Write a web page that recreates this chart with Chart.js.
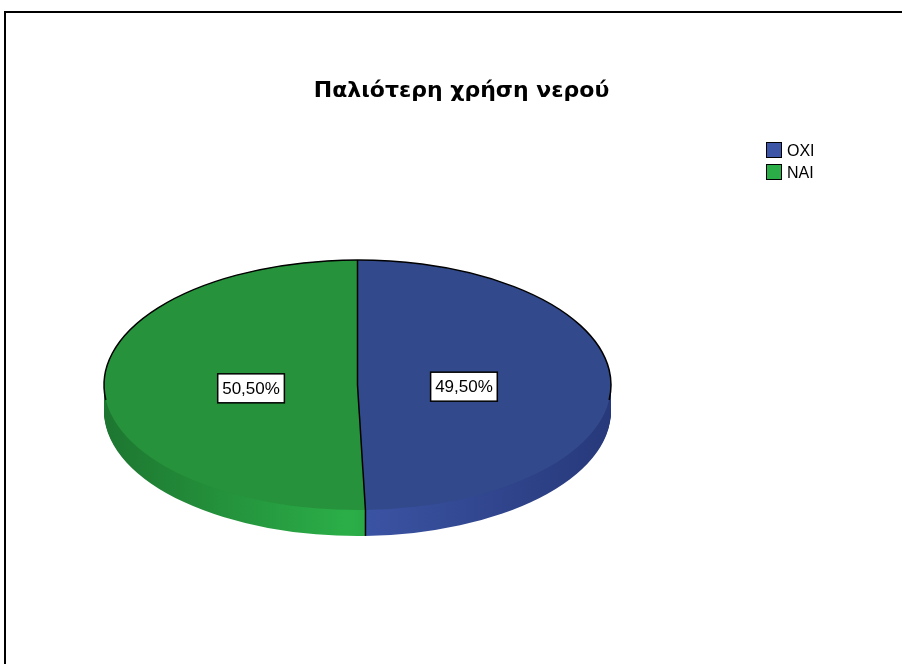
<!DOCTYPE html>
<html>
<head>
<meta charset="utf-8">
<script src="https://cdn.jsdelivr.net/npm/chart.js@4/dist/chart.umd.min.js"></script>
<style>
    body { margin: 0; background: #fff; font-family: Arial, "Liberation Sans", sans-serif; }
    #wrap { position: relative; width: 902px; height: 664px; overflow: hidden; }
    #frame { position: absolute; left: 4px; top: 11px; width: 1000px; height: 1000px;
             border-left: 2px solid #000; border-top: 2px solid #000; }
    #chart { position: absolute; left: 0; top: 0; }
    #title { position: absolute; left: 0; top: 77px; width: 923px; text-align: center;
             font-family: "DejaVu Sans", sans-serif; font-weight: bold; font-size: 22px;
             line-height: 26px; color: #000; }
    .leg { position: absolute; left: 766px; height: 16px; font-size: 16px; line-height: 16px; }
    .leg span.box { position: absolute; left: 0; top: 0; width: 16px; height: 16px;
                    box-sizing: border-box; border: 1.5px solid #000; }
    .leg span.txt { position: absolute; left: 21px; top: 1px; white-space: nowrap; }
</style>
</head>
<body>
<div id="wrap">
    <div id="frame"></div>
    <canvas id="chart" width="902" height="664"></canvas>
    <div id="title">Παλιότερη χρήση νερού</div>
    <div id="legend"></div>
</div>
<script>
// data
var labels = ['ΟΧΙ', 'ΝΑΙ'];
var percents = [49.5, 50.5];
var topColors = ['#324a8b', '#26923b'];
var sideLight = ['#3c55a6', '#2bae48'];
var sideDark = ['#27397a', '#1d7630'];

var squash = 125 / 253.5;   // vertical flattening of the pie
var depth = 26;             // thickness of the pie side in px

// legend boxes
var legend = document.getElementById('legend');
labels.forEach(function(l, i) {
    var d = document.createElement('div');
    d.className = 'leg';
    d.style.top = (142 + i * 22) + 'px';
    d.innerHTML = '<span class="box" style="background:' + sideLight[i] + '"></span><span class="txt">' + l + '</span>';
    legend.appendChild(d);
});

function pt(cx, cy, r, a) {
    return [cx + r * Math.cos(a), cy + r * squash * Math.sin(a)];
}

var pie3d = {
    id: 'pie3d',
    beforeDatasetsDraw: function(chart) {
        var ctx = chart.ctx;
        var arcs = chart.getDatasetMeta(0).data;
        var cx = arcs[0].x, cy = arcs[0].y, r = arcs[0].outerRadius;

        // side of the pie, stacked layers with a horizontal shading
        for (var d = depth; d > 0; d--) {
            arcs.forEach(function(arc, i) {
                var g = ctx.createLinearGradient(cx - r, 0, cx + r, 0);
                g.addColorStop(0, sideDark[i]);
                g.addColorStop(0.48, sideLight[i]);
                g.addColorStop(1, sideDark[i]);
                ctx.save();
                ctx.translate(0, d + cy);
                ctx.scale(1, squash);
                ctx.translate(0, -cy);
                ctx.beginPath();
                ctx.moveTo(cx, cy);
                ctx.arc(cx, cy, r, arc.startAngle, arc.endAngle);
                ctx.closePath();
                ctx.fillStyle = g;
                ctx.fill();
                ctx.restore();
            });
        }

        // flatten the top face drawn by the library
        ctx.save();
        ctx.translate(0, cy);
        ctx.scale(1, squash);
        ctx.translate(0, -cy);
    },
    afterDatasetsDraw: function(chart) {
        var ctx = chart.ctx;
        ctx.restore();
        var arcs = chart.getDatasetMeta(0).data;
        var cx = arcs[0].x, cy = arcs[0].y, r = arcs[0].outerRadius;

        ctx.save();
        ctx.strokeStyle = '#000';
        ctx.lineWidth = 1.5;

        // back rim outline
        ctx.beginPath();
        ctx.ellipse(cx, cy, r, r * squash, 0, Math.PI - 0.12, 2 * Math.PI + 0.12);
        ctx.stroke();

        // slice edges on top and on the front side
        arcs.forEach(function(arc) {
            var p = pt(cx, cy, r, arc.startAngle);
            ctx.beginPath();
            ctx.moveTo(cx, cy);
            ctx.lineTo(p[0], p[1]);
            ctx.stroke();
            var s = Math.sin(arc.startAngle);
            if (s > 0) {
                ctx.beginPath();
                ctx.moveTo(p[0], p[1]);
                ctx.lineTo(p[0], p[1] + depth);
                ctx.stroke();
            }
        });

        // value boxes
        ctx.font = '17px Arial, "Liberation Sans", sans-serif';
        ctx.textAlign = 'center';
        ctx.textBaseline = 'middle';
        arcs.forEach(function(arc, i) {
            var mid = (arc.startAngle + arc.endAngle) / 2;
            var p = pt(cx, cy, r * 0.42, mid);
            var txt = percents[i].toFixed(2).replace('.', ',') + '%';
            var w = ctx.measureText(txt).width + 9;
            var h = 29;
            var x = p[0], y = p[1] + 2.5;
            ctx.fillStyle = '#fff';
            ctx.fillRect(x - w / 2, y - h / 2, w, h);
            ctx.strokeRect(x - w / 2, y - h / 2, w, h);
            ctx.fillStyle = '#000';
            ctx.fillText(txt, x, y + 1);
        });
        ctx.restore();
    }
};

new Chart(document.getElementById('chart'), {
    type: 'pie',
    data: {
        labels: labels,
        datasets: [{
            data: percents,
            backgroundColor: topColors,
            borderWidth: 0,
            clip: false
        }]
    },
    options: {
        responsive: false,
        animation: false,
        layout: { padding: { left: 104, right: 291, top: 131.5, bottom: 25.5 } },
        plugins: {
            legend: { display: false },
            tooltip: { enabled: false },
            title: { display: false }
        }
    },
    plugins: [pie3d]
});
</script>
</body>
</html>
